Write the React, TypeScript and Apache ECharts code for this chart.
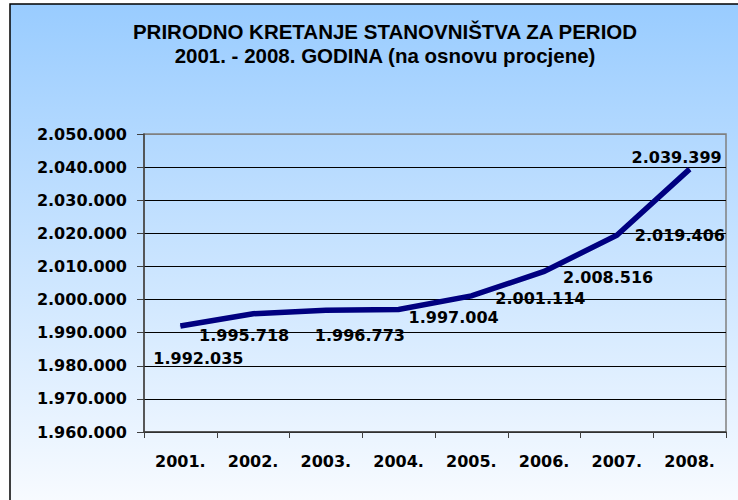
import React, { useEffect, useRef } from "react";
import * as echarts from "echarts";

const years = ["2001.", "2002.", "2003.", "2004.", "2005.", "2006.", "2007.", "2008."];
const population = [1992035, 1995718, 1996773, 1997004, 2001114, 2008516, 2019406, 2039399];
const yMin = 1960000;
const yMax = 2050000;
const yStep = 10000;
// label placement (pixel offsets of each value label from its point)
const labelOffsets: [number, number][] = [
  [18, 33],
  [-9, 22],
  [34, 25],
  [55, 8],
  [69, 3],
  [64, 6],
  [63, 0],
  [-13, -12],
];

const titleText = "PRIRODNO KRETANJE STANOVNIŠTVA ZA PERIOD\n2001. - 2008. GODINA (na osnovu procjene)";

const fmt = (v: number) => String(Math.round(v)).replace(/\B(?=(\d{3})+(?!\d))/g, ".");

const FONT = "'DejaVu Sans', sans-serif";
const TITLE_FONT = "'Liberation Sans', Arial, sans-serif";

export default function App() {
  const ref = useRef<HTMLDivElement>(null);
  useEffect(() => {
    if (!ref.current) return;
    const chart = echarts.init(ref.current, undefined, { renderer: "svg" });
    const nLines = Math.round((yMax - yMin) / yStep) + 1;
    const splitColors = Array.from({ length: nLines }, (_, i) => (i === nLines - 1 ? "#808080" : "#000000"));
    chart.setOption({
      animation: false,
      backgroundColor: "#ffffff",
      graphic: [
        {
          type: "rect",
          z: -10,
          silent: true,
          shape: { x: 10, y: 4, width: 740, height: 510 },
          style: {
            fill: new echarts.graphic.LinearGradient(0, 0, 0, 1, [
              { offset: 0, color: "#99CCFF" },
              { offset: 1, color: "#FAFCFF" },
            ]),
            stroke: "#000000",
            lineWidth: 1.5,
          },
        },
      ],
      title: {
        text: titleText,
        left: 380,
        textAlign: "center",
        top: 14,
        textStyle: {
          fontFamily: TITLE_FONT,
          fontWeight: "bold",
          fontSize: 20.5,
          lineHeight: 24,
          color: "#000000",
        },
      },
      grid: {
        left: 144,
        top: 134,
        right: 12,
        bottom: 68,
        show: true,
        borderColor: "#808080",
        borderWidth: 1.5,
        backgroundColor: "transparent",
      },
      xAxis: {
        type: "category",
        data: years,
        boundaryGap: true,
        axisLine: { show: true, lineStyle: { color: "#404040", width: 1.5 } },
        axisTick: { show: true, length: 6, alignWithLabel: false, lineStyle: { color: "#404040" } },
        axisLabel: {
          margin: 21,
          fontFamily: FONT,
          fontWeight: "bold",
          fontSize: 16,
          color: "#000000",
          interval: 0,
        },
        splitLine: { show: false },
      },
      yAxis: {
        type: "value",
        min: yMin,
        max: yMax,
        interval: yStep,
        axisLine: { show: true, lineStyle: { color: "#404040", width: 1.5 } },
        axisTick: { show: true, length: 7, lineStyle: { color: "#404040" } },
        axisLabel: {
          margin: 17,
          fontFamily: FONT,
          fontWeight: "bold",
          fontSize: 16,
          color: "#000000",
          formatter: (v: number) => fmt(v),
        },
        splitLine: { show: true, lineStyle: { color: splitColors, width: 1 } },
      },
      series: [
        {
          type: "line",
          data: population.map((v, i) => ({
            value: v,
            label: { offset: labelOffsets[i] },
          })),
          symbol: "circle",
          symbolSize: 1,
          showSymbol: true,
          itemStyle: { color: "#000080" },
          lineStyle: { color: "#000080", width: 5.5, cap: "butt", join: "miter" },
          label: {
            show: true,
            position: "inside",
            align: "center",
            verticalAlign: "middle",
            fontFamily: FONT,
            fontWeight: "bold",
            fontSize: 16,
            color: "#000000",
            formatter: (p: any) => fmt(p.value),
          },
          z: 3,
        },
      ],
    });
    return () => chart.dispose();
  }, []);
  return <div ref={ref} style={{ position: "fixed", left: 0, top: 0, width: 738, height: 500 }} />;
}
